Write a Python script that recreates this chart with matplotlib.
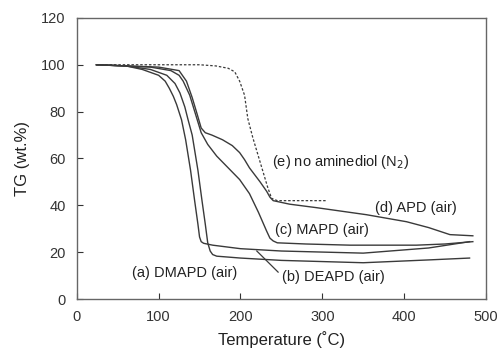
import matplotlib
matplotlib.use("Agg")
import matplotlib.pyplot as plt

plt.rcParams['font.family'] = ['Liberation Sans', 'DejaVu Sans']

# (a) DMAPD in air
t_a = [24, 60, 90, 110, 120, 126, 132, 136, 141, 148, 153, 157, 160, 163, 166, 171, 200, 250, 350, 430, 480]
w_a = [100, 99.5, 98, 95.5, 92, 88, 82, 76.5, 70, 55, 42, 32, 24, 20.5, 19, 18.3, 17.5, 16.5, 15.5, 16.7, 17.5]

# (b) DEAPD in air
t_b = [24, 60, 80, 100, 108, 113, 118, 122, 128, 133, 139, 144, 148, 150, 152, 155, 166, 200, 250, 350, 430, 480]
w_b = [100, 99.5, 98, 95.5, 93, 90, 86.5, 83, 76.5, 68, 55, 42, 32, 26.5, 24.5, 23.8, 23, 21.5, 20.5, 19.6, 21.8, 24.5]

# (c) MAPD in air
t_c = [24, 90, 115, 125, 130, 138, 145, 152, 160, 171, 185, 199, 211, 222, 232, 236, 240, 245, 280, 334, 415, 450, 484]
w_c = [100, 99, 97.5, 95.5, 93, 87, 79, 71, 66, 61, 56, 51, 45, 37, 29, 26, 24.8, 24, 23.5, 23, 23, 23.5, 24.5]

# (d) APD in air
t_d = [24, 100, 125, 134, 141, 147, 152, 157, 165, 178, 190, 199, 205, 211, 224, 232, 236, 240, 260, 293, 354, 403, 430, 456, 484]
w_d = [100, 99, 97.5, 93, 86, 79, 73, 71, 70, 68, 65.5, 62.5, 59.5, 56, 50, 46, 43.5, 42, 40.5, 39, 36, 33, 30.5, 27.5, 27]

# (e) no aminediol in N2
t_e = [24, 150, 170, 185, 193, 199, 205, 209, 215, 221, 227, 233, 238, 245, 305]
w_e = [100, 100, 99.5, 98.5, 97, 93, 87, 77, 69, 62, 55, 48, 43, 42, 42]

xticks = [0, 100, 200, 300, 400, 500]
yticks = [0, 20, 40, 60, 80, 100, 120]

fig = plt.figure(figsize=(5.02, 3.51), dpi=100)
ax = fig.add_axes([0.153, 0.148, 0.815, 0.801])

lc = '#3a3a3a'
for t, w in [(t_a, w_a), (t_b, w_b), (t_c, w_c), (t_d, w_d)]:
    ax.plot(t, w, color=lc, lw=1.0)
ax.plot(t_e, w_e, color=lc, lw=0.9, ls=(0, (2, 1.5)))

ax.set_xlim(0, 500)
ax.set_ylim(0, 120)
ax.set_xticks(xticks)
ax.set_yticks(yticks)
ax.tick_params(direction='in', length=4, labelsize=10.5, colors='#333333', pad=8)
for s in ax.spines.values():
    s.set_color('#666666')
    s.set_linewidth(1.0)

ax.set_xlabel('Temperature (˚C)', fontsize=12, labelpad=5, color='#222222')
ax.set_ylabel('TG (wt.%)', fontsize=12, labelpad=8, color='#222222')

fs = 10.5
tc = '#222222'
ax.text(238, 58.5, '(e) no aminediol (N$_2$)', fontsize=fs, color=tc, va='center')
ax.text(364, 39, '(d) APD (air)', fontsize=fs, color=tc, va='center')
ax.text(242, 29.5, '(c) MAPD (air)', fontsize=fs, color=tc, va='center')
ax.text(251, 9.4, '(b) DEAPD (air)', fontsize=fs, color=tc, va='center')
ax.text(67, 11, '(a) DMAPD (air)', fontsize=fs, color=tc, va='center')
ax.plot([220, 246], [20.5, 11.5], color=lc, lw=0.9)

fig.savefig('out.png', dpi=100, facecolor='white')
